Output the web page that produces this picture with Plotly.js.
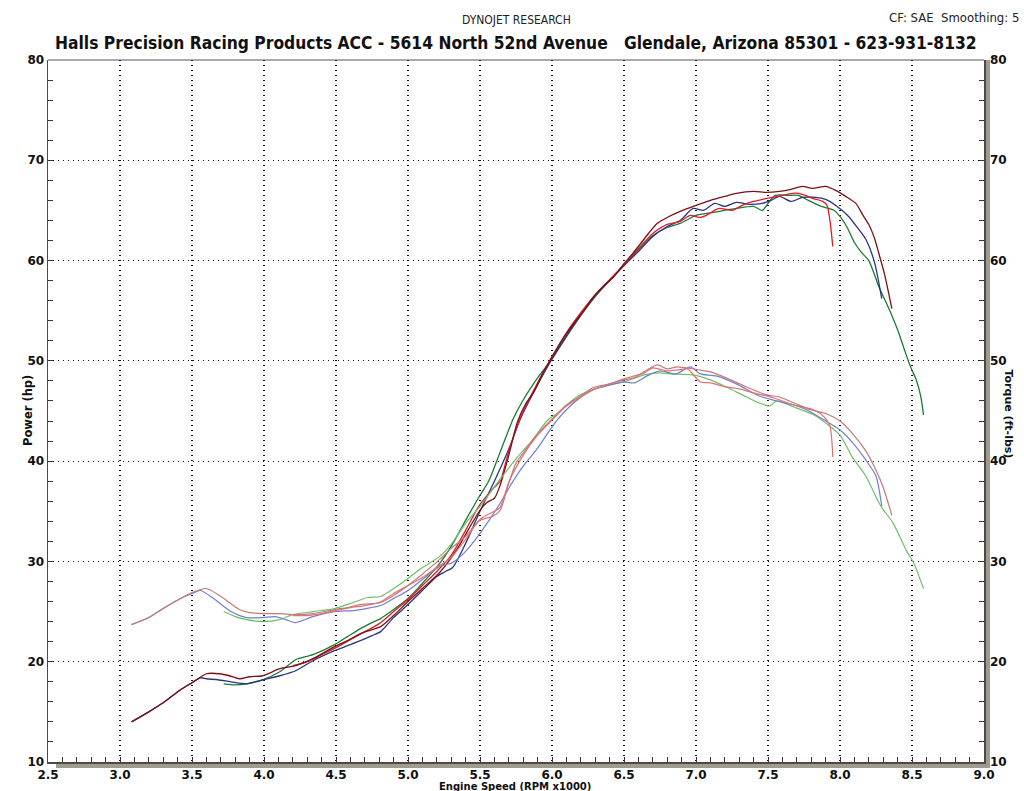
<!DOCTYPE html>
<html>
<head>
<meta charset="utf-8">
<script src="https://cdn.plot.ly/plotly-3.0.1.min.js"></script>
<style>html,body{margin:0;padding:0;background:#fff;}#chart{width:1024px;height:791px;}</style>
</head>
<body>
<div id="chart"></div>
<script>
// ---- Data (RPM x1000) ----
// Run 1 (maroon power / rosy torque)
const run1HpRpm = [3.08,3.2,3.3,3.42,3.5,3.6,3.69,3.76,3.83,3.9,3.99,4.11,4.22,4.34,4.49,4.58,4.67,4.75,4.81,4.9,5.0,5.1,5.22,5.34,5.42,5.5,5.55,5.6,5.64,5.7,5.76,5.82,5.87,5.93,6.0,6.08,6.15,6.22,6.29,6.36,6.43,6.5,6.56,6.61,6.67,6.73,6.8,6.89,7.0,7.12,7.2,7.28,7.4,7.49,7.58,7.66,7.74,7.81,7.9,7.97,8.04,8.11,8.16,8.2,8.24,8.27,8.31,8.36];
const run1Hp = [14.0,15.0,15.9,17.2,17.9,18.8,18.8,18.6,18.3,18.5,18.6,19.3,19.6,20.3,21.5,22.1,22.8,23.2,23.5,24.6,26.0,27.3,28.9,31.2,33.2,35.1,35.9,36.3,37.6,40.6,43.9,45.8,46.8,48.6,50.4,52.3,53.7,55.0,56.4,57.5,58.4,59.7,60.7,61.6,62.7,63.7,64.3,64.9,65.5,66.1,66.4,66.7,66.9,66.8,66.9,67.1,67.4,67.2,67.4,67.0,66.4,65.7,64.5,63.6,62.2,60.7,58.6,55.2];
const run1TqRpm = [3.08,3.2,3.3,3.42,3.5,3.6,3.69,3.76,3.83,3.9,3.99,4.11,4.22,4.34,4.49,4.58,4.67,4.81,4.9,5.0,5.08,5.22,5.3,5.4,5.5,5.59,5.64,5.7,5.75,5.8,5.87,5.93,6.0,6.1,6.2,6.28,6.4,6.5,6.57,6.64,6.73,6.8,6.87,6.98,7.1,7.21,7.35,7.49,7.58,7.68,7.8,7.89,8.0,8.09,8.18,8.25,8.3,8.36];
const run1Tq = [23.7,24.4,25.3,26.3,26.9,27.3,26.6,25.9,25.2,24.9,24.8,24.8,24.7,24.8,25.2,25.4,25.7,25.9,26.6,27.6,28.5,30.2,31.3,32.5,34.1,34.5,35.1,37.8,39.8,40.8,42.2,43.2,44.2,45.6,46.5,47.3,47.7,48.1,48.3,48.9,49.6,49.2,49.4,49.2,48.9,48.3,47.4,46.6,46.4,45.8,45.1,44.8,44.0,42.7,41.0,39.1,37.4,34.6];

// Run 2 (navy power / light blue torque)
const run2HpRpm = [3.08,3.2,3.3,3.42,3.5,3.56,3.6,3.68,3.77,3.88,3.99,4.11,4.22,4.34,4.49,4.58,4.67,4.75,4.81,4.9,5.0,5.1,5.2,5.26,5.31,5.4,5.5,5.6,5.7,5.78,5.87,6.0,6.1,6.2,6.3,6.4,6.5,6.6,6.7,6.8,6.89,6.98,7.05,7.13,7.2,7.28,7.37,7.46,7.52,7.58,7.66,7.74,7.83,7.9,7.98,8.06,8.12,8.18,8.24,8.29];
const run2Hp = [14.0,15.0,15.9,17.2,17.9,18.4,18.3,18.2,18.0,17.8,18.2,18.6,19.1,20.1,21.1,21.6,22.1,22.6,23.0,24.4,25.7,27.1,28.5,29.0,29.4,31.8,35.0,38.0,41.2,44.2,46.8,50.2,52.5,54.6,56.5,58.0,59.5,60.9,62.4,63.4,64.0,65.2,65.0,65.7,65.4,65.8,65.6,65.7,66.0,66.4,65.9,66.3,66.3,66.1,65.4,64.4,63.3,62.1,59.8,56.2];
const run2TqRpm = [3.08,3.2,3.3,3.42,3.5,3.56,3.65,3.77,3.88,3.99,4.08,4.15,4.22,4.34,4.49,4.62,4.71,4.81,4.9,5.0,5.1,5.22,5.31,5.4,5.5,5.64,5.7,5.78,5.9,6.03,6.15,6.28,6.4,6.5,6.57,6.66,6.75,6.86,6.96,7.03,7.14,7.28,7.44,7.56,7.68,7.77,7.89,8.0,8.09,8.18,8.25,8.29];
const run2Tq = [23.7,24.4,25.3,26.3,26.8,27.1,26.3,25.0,24.4,24.4,24.5,24.2,23.9,24.5,25.0,25.1,25.3,25.6,26.3,27.1,28.2,29.5,29.9,31.0,32.8,35.8,37.3,39.1,41.3,44.0,45.8,47.1,47.6,47.9,47.8,48.5,49.0,48.7,49.4,48.7,48.5,47.7,46.5,46.0,45.6,45.1,44.1,43.1,41.8,40.1,38.5,35.5];

// Run 3 (red power / light red torque)
const run3HpRpm = [4.2,4.3,4.4,4.5,4.6,4.7,4.8,4.9,5.0,5.1,5.2,5.3,5.4,5.5,5.6,5.64,5.7,5.8,5.9,6.0,6.1,6.2,6.3,6.4,6.5,6.6,6.7,6.8,6.89,6.96,7.03,7.07,7.16,7.25,7.32,7.4,7.53,7.6,7.67,7.71,7.76,7.81,7.88,7.91,7.93,7.95];
const run3Hp = [19.6,20.0,20.7,21.4,22.2,23.0,23.8,25.0,26.2,27.6,29.0,30.6,33.1,35.7,37.4,38.0,41.0,45.0,47.8,50.4,52.8,54.8,56.6,58.1,59.6,61.2,62.7,63.6,63.9,64.5,64.3,64.5,65.2,65.0,65.5,65.9,66.3,66.5,66.7,66.7,66.5,66.2,65.9,65.5,64.0,61.4];
const run3TqRpm = [4.2,4.3,4.4,4.5,4.6,4.7,4.8,4.9,5.0,5.1,5.2,5.3,5.4,5.5,5.6,5.64,5.7,5.8,5.9,6.0,6.1,6.2,6.3,6.4,6.5,6.64,6.7,6.8,6.88,6.94,7.03,7.1,7.21,7.3,7.4,7.54,7.68,7.82,7.89,7.93,7.95];
const run3Tq = [24.6,24.6,24.8,25.1,25.4,25.6,25.9,26.8,27.6,28.4,29.4,30.4,32.2,34.2,35.0,35.4,37.9,40.6,42.6,44.1,45.5,46.4,47.2,47.7,48.2,48.8,49.3,49.0,49.1,49.2,47.9,47.8,47.4,47.2,46.8,46.3,45.6,45.1,44.4,43.5,40.4];

// Run 4 (green power / light green torque)
const run4HpRpm = [3.72,3.8,3.88,3.99,4.11,4.22,4.34,4.49,4.58,4.67,4.75,4.81,4.9,5.0,5.08,5.22,5.3,5.4,5.5,5.56,5.64,5.73,5.8,5.9,6.0,6.1,6.2,6.3,6.4,6.5,6.6,6.7,6.8,6.89,7.0,7.12,7.28,7.4,7.46,7.5,7.55,7.64,7.71,7.78,7.87,7.96,8.0,8.05,8.1,8.15,8.2,8.27,8.34,8.4,8.45,8.49,8.53,8.56,8.58];
const run4Hp = [17.8,17.7,17.8,18.2,19.0,20.2,20.7,21.7,22.5,23.3,23.9,24.3,25.2,26.3,27.5,29.8,31.5,34.1,36.6,38.0,40.9,44.2,46.1,48.3,50.2,52.4,54.5,56.4,58.0,59.5,61.1,62.5,63.3,63.7,64.5,64.8,65.2,65.4,65.0,65.7,66.5,66.5,66.5,66.0,65.4,65.0,64.4,63.3,61.8,60.8,60.0,57.4,55.2,53.1,51.0,49.4,48.1,46.5,44.6];
const run4TqRpm = [3.72,3.8,3.88,3.99,4.11,4.2,4.34,4.49,4.62,4.72,4.81,4.9,5.0,5.08,5.22,5.3,5.4,5.5,5.64,5.76,5.87,5.97,6.05,6.17,6.3,6.4,6.5,6.64,6.75,6.82,6.98,7.1,7.21,7.35,7.44,7.51,7.56,7.68,7.82,7.91,8.0,8.09,8.18,8.28,8.37,8.46,8.51,8.58];
const run4Tq = [25.0,24.5,24.2,24.0,24.2,24.7,25.0,25.3,25.9,26.4,26.5,27.3,28.3,29.2,30.5,31.7,33.8,35.5,38.2,40.4,42.2,44.1,44.9,46.4,47.2,47.6,47.9,48.6,48.8,48.7,48.6,48.1,47.4,46.4,45.8,45.5,46.0,45.4,44.6,43.7,42.6,40.3,38.5,35.6,33.8,31.1,29.9,27.3];

const xTickVals = [2.5,3.0,3.5,4.0,4.5,5.0,5.5,6.0,6.5,7.0,7.5,8.0,8.5,9.0];
const xTickText = ['2.5','3.0','3.5','4.0','4.5','5.0','5.5','6.0','6.5','7.0','7.5','8.0','8.5','9.0'];
const yTickVals = [10,20,30,40,50,60,70,80];

// ---- Traces ----
function line(x, y, color, width, axis) {
  return {x: x, y: y, type: 'scatter', mode: 'lines', yaxis: axis,
    line: {color: color, width: width, shape: 'spline', smoothing: 0.7},
    hoverinfo: 'x+y'};
}
const traces = [
  line(run4TqRpm, run4Tq, '#6cc06c', 1.2, 'y2'),
  line(run2TqRpm, run2Tq, '#6f7fd0', 1.2, 'y2'),
  line(run3TqRpm, run3Tq, '#e8706f', 1.2, 'y2'),
  line(run1TqRpm, run1Tq, '#c47a78', 1.2, 'y2'),
  line(run4HpRpm, run4Hp, '#1b7a35', 1.3, 'y'),
  line(run2HpRpm, run2Hp, '#2a3580', 1.3, 'y'),
  line(run3HpRpm, run3Hp, '#e31b23', 1.3, 'y'),
  line(run1HpRpm, run1Hp, '#7d1014', 1.3, 'y')
];

const tickFont = {family: 'DejaVu Sans', size: 12, color: '#111', weight: 'bold'};
const PW = 936, PH = 702;
const gridDash = '1px,4px';

const layout = {
  width: 1024, height: 791,
  margin: {l: 48, r: 40, t: 60, b: 29, pad: 0},
  paper_bgcolor: '#ffffff', plot_bgcolor: '#ffffff',
  showlegend: false,
  xaxis: {
    range: [2.5, 9.0], tickmode: 'array', tickvals: xTickVals, ticktext: xTickText,
    showgrid: true, gridcolor: '#111', griddash: gridDash, gridwidth: 1.2,
    zeroline: false, showline: true, linecolor: '#4a4a4a', linewidth: 2,
    ticks: 'inside', ticklen: 5, tickcolor: '#333', tickwidth: 1,
    minor: {dtick: 0.1, ticks: 'inside', ticklen: 5, tickcolor: '#333', tickwidth: 1, showgrid: false},
    tickfont: tickFont, ticklabelstandoff: 1, fixedrange: true
  },
  yaxis: {
    range: [10, 80], tickmode: 'array', tickvals: yTickVals,
    showgrid: true, gridcolor: '#111', griddash: gridDash, gridwidth: 1.2,
    zeroline: false, showline: true, linecolor: '#4a4a4a', linewidth: 1.5,
    ticks: 'inside', ticklen: 5, tickcolor: '#333',
    minor: {dtick: 2, ticks: 'inside', ticklen: 5, tickcolor: '#333', showgrid: false},
    tickfont: tickFont, fixedrange: true
  },
  yaxis2: {
    range: [10, 80], tickmode: 'array', tickvals: yTickVals,
    overlaying: 'y', side: 'right', showgrid: false,
    zeroline: false, showline: true, linecolor: '#4a4a4a', linewidth: 1.5,
    ticks: 'inside', ticklen: 5, tickcolor: '#333',
    minor: {dtick: 2, ticks: 'inside', ticklen: 5, tickcolor: '#333', showgrid: false},
    tickfont: tickFont, ticklabelstandoff: 2, fixedrange: true
  },
  shapes: [
    {type: 'rect', xref: 'paper', yref: 'paper', x0: 1.0, x1: 1.0 + 6/PW, y0: -6/PH, y1: 1.0,
     fillcolor: '#a19a8e', line: {width: 0}, layer: 'below'},
    {type: 'rect', xref: 'paper', yref: 'paper', x0: 8/PW, x1: 1.0 + 6/PW, y0: -6/PH, y1: -1/PH,
     fillcolor: '#a19a8e', line: {width: 0}, layer: 'below'},
    {type: 'line', xref: 'paper', yref: 'paper', x0: 0, x1: 1, y0: 1, y1: 1,
     line: {color: '#555', width: 1}}
  ],
  annotations: [
    {text: 'DYNOJET RESEARCH', xref: 'paper', yref: 'paper', x: (516-48)/PW, y: 1 + 40/PH,
     yanchor: 'middle', showarrow: false, font: {family: 'DejaVu Sans Condensed', size: 12, color: '#222'}},
    {text: 'CF: SAE  Smoothing: 5', xref: 'paper', yref: 'paper', x: (1021-48)/PW, y: 1 + 42/PH,
     xanchor: 'right', yanchor: 'middle', showarrow: false, font: {family: 'DejaVu Sans Condensed', size: 13, color: '#222'}},
    {text: 'Halls Precision Racing Products ACC - 5614 North 52nd Avenue   Glendale, Arizona 85301 - 623-931-8132',
     xref: 'paper', yref: 'paper', x: (516-48)/PW, y: 1 + 17/PH, yanchor: 'middle', showarrow: false,
     font: {family: 'DejaVu Sans Condensed', size: 17.3, color: '#111', weight: 'bold'}},
    {text: 'Power (hp)', xref: 'paper', yref: 'paper', x: (19-48)/PW, y: 1 - (411-60)/PH, textangle: -90,
     showarrow: false, font: {family: 'DejaVu Sans', size: 11.5, color: '#111', weight: 'bold'}},
    {text: 'Torque (ft-lbs)', xref: 'paper', yref: 'paper', x: (1017-48)/PW, y: 1 - (414-60)/PH, textangle: 90,
     showarrow: false, font: {family: 'DejaVu Sans', size: 11, color: '#111', weight: 'bold'}},
    {text: 'Engine Speed (RPM x1000)', xref: 'paper', yref: 'paper', x: (515-48)/PW, y: -(786-762)/PH,
     yanchor: 'middle', showarrow: false, font: {family: 'DejaVu Sans', size: 10, color: '#111', weight: 'bold'}}
  ]
};

Plotly.newPlot('chart', traces, layout, {displayModeBar: false, staticPlot: true});
</script>
</body>
</html>
